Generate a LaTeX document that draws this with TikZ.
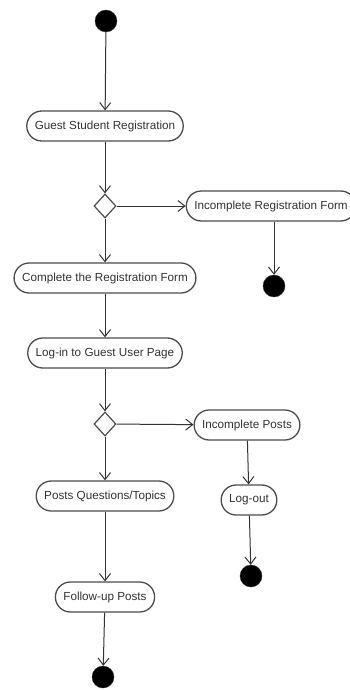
\documentclass[tikz,border=0pt]{standalone}
\usepackage{fontspec}
\setmainfont{Liberation Sans}
\usetikzlibrary{arrows.meta,shapes.geometric}

\begin{document}
\begin{tikzpicture}[x=1pt, y=-1pt,
    activity/.style={
        rectangle,
        rounded corners=15pt,
        minimum height=30pt,
        inner xsep=8pt,
        draw=black!70,
        line width=1.3pt,
        fill=white,
        text=black!80,
        font=\fontsize{11.7}{13}\selectfont
    },
    startstop/.style={
        circle,
        fill=black,
        draw=black!80,
        minimum size=22pt,
        inner sep=0pt
    },
    decision/.style={
        diamond,
        draw=black!70,
        line width=1.2pt,
        fill=white,
        minimum width=22pt,
        minimum height=24pt,
        inner sep=0pt
    },
    flow/.style={
        -{Straight Barb[length=7pt, width=11pt]},
        black!80,
        line width=1pt
    }
]
    \useasboundingbox (0, 0) rectangle (349, 690);

    \node (start) [startstop, shift={(106, 21)}] {};

    \node (guest_student_registration) [activity, shift={(105, 126)}]
    {
        Guest Student Registration
    };

    \node (check_form) [decision, shift={(105, 206)}] {};

    \node (incomplete_registration_form) [activity, shift={(271, 206)}]
    {
        Incomplete Registration Form
    };
    \node (stop_form) [startstop, shift={(274, 286)}] {};

    \node (complete_registration_form) [activity, shift={(105, 278)}]
    {
        Complete the Registration Form
    };

    \node (login_guest_page) [activity, shift={(105, 353)}]
    {
        Log-in to Guest User Page
    };

    \node (check_posts) [decision, shift={(105, 424)}] {};

    \node (incomplete_posts) [activity, shift={(247, 425)}]
    {
        Incomplete Posts
    };
    \node (logout) [activity, shift={(249, 500)}]
    {
        Log-out
    };
    \node (stop_logout) [startstop, shift={(251, 576)}] {};

    \node (posts_questions_topics) [activity, shift={(105, 496)}]
    {
        Posts Questions/Topics
    };

    \node (followup_posts) [activity, shift={(105, 597)}]
    {
        Follow-up Posts
    };
    \node (stop_posts) [startstop, shift={(103, 677)}] {};

    \draw[flow] (start) to (guest_student_registration);
    \draw[flow] (guest_student_registration) to (check_form);
    \draw[flow] (check_form) to (incomplete_registration_form);
    \draw[flow] (incomplete_registration_form.south -| stop_form) to (stop_form);
    \draw[flow] (check_form) to (complete_registration_form);
    \draw[flow] (complete_registration_form) to (login_guest_page);
    \draw[flow] (login_guest_page) to (check_posts);
    \draw[flow] (check_posts) to (incomplete_posts);
    \draw[flow] (incomplete_posts) to (logout);
    \draw[flow] (logout) to (stop_logout);
    \draw[flow] (check_posts) to (posts_questions_topics);
    \draw[flow] (posts_questions_topics) to (followup_posts);
    \draw[flow] (followup_posts) to (stop_posts);

\end{tikzpicture}
\end{document}
